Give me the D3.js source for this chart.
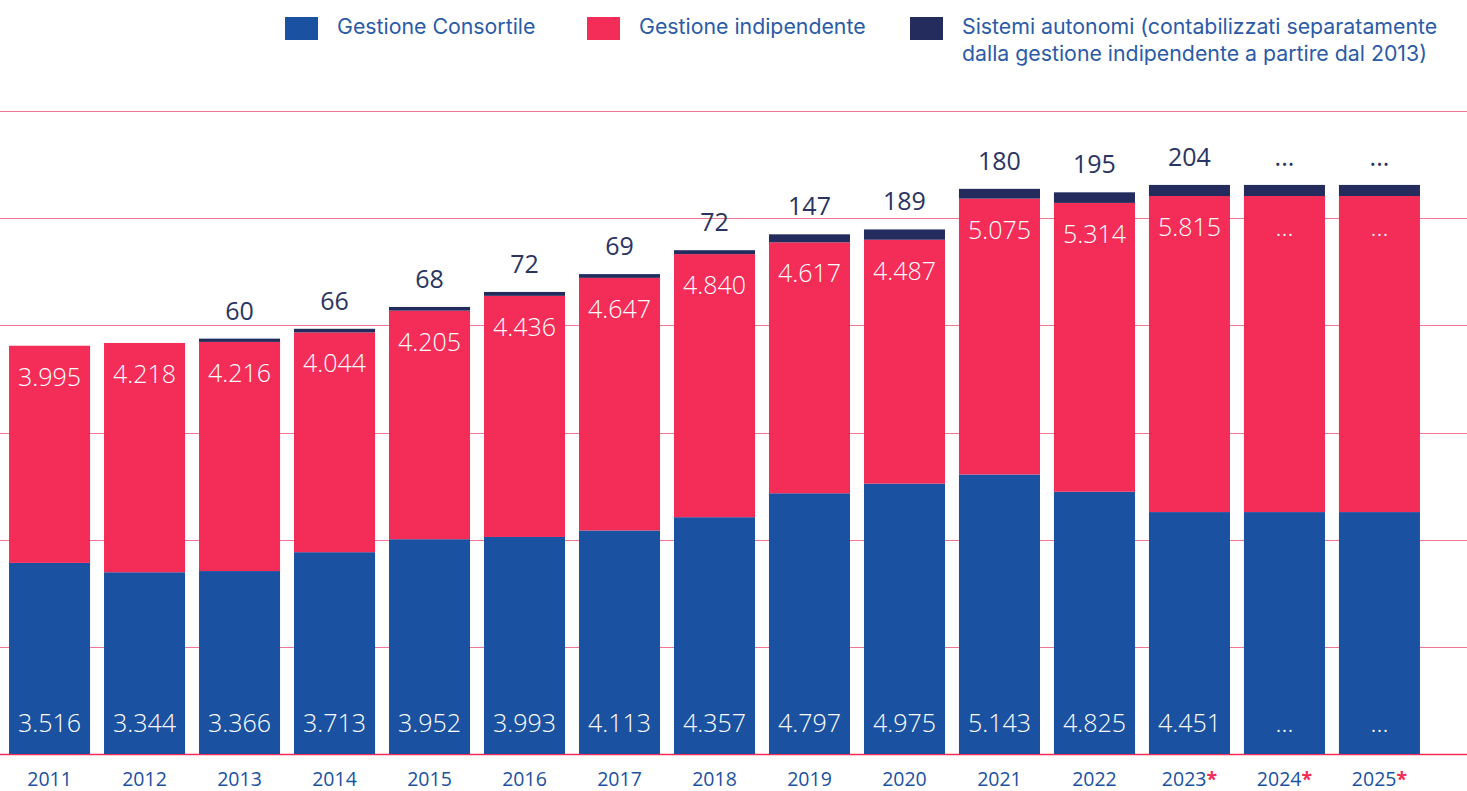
<!DOCTYPE html>
<html>
<head>
<meta charset="utf-8">
<script src="https://cdn.jsdelivr.net/npm/d3@7"></script>
<style>
  html, body { margin: 0; padding: 0; background: #fff; }
  svg { display: block; }
</style>
</head>
<body>
<div id="chart"></div>
<script>
// data
const years = ["2011", "2012", "2013", "2014", "2015", "2016", "2017", "2018", "2019", "2020", "2021", "2022", "2023", "2024", "2025"];
const estimated = [false, false, false, false, false, false, false, false, false, false, false, false, true, true, true];
const consortile = [3516, 3344, 3366, 3713, 3952, 3993, 4113, 4357, 4797, 4975, 5143, 4825, 4451, 4451, 4451];
const indipendente = [3995, 4218, 4216, 4044, 4205, 4436, 4647, 4840, 4617, 4487, 5075, 5314, 5815, 5815, 5815];
const autonomi = [0, 0, 60, 66, 68, 72, 69, 72, 147, 189, 180, 195, 204, 204, 204];
const consortileLabels = ["3.516", "3.344", "3.366", "3.713", "3.952", "3.993", "4.113", "4.357", "4.797", "4.975", "5.143", "4.825", "4.451", "...", "..."];
const indipendenteLabels = ["3.995", "4.218", "4.216", "4.044", "4.205", "4.436", "4.647", "4.840", "4.617", "4.487", "5.075", "5.314", "5.815", "...", "..."];
const autonomiLabels = ["", "", "60", "66", "68", "72", "69", "72", "147", "189", "180", "195", "204", "...", "..."];
const legendLabels = ["Gestione Consortile", "Gestione indipendente", ["Sistemi autonomi (contabilizzati separatamente", "dalla gestione indipendente a partire dal 2013)"]];

const colors = { consortile: "#1b51a1", indipendente: "#f32c58", autonomi: "#232c5d" };

async function drawChart() {
  const width = 1467;
  const height = 791;
  const numFont = "'Open Sans', 'Noto Sans', sans-serif";
  const textFont = "Inter, Roboto, sans-serif";

  const svg = d3.select("#chart")
    .append("svg")
    .attr("width", width)
    .attr("height", height);

  const rows = years.map((y, i) => ({
    year: y,
    est: estimated[i],
    c: consortile[i],
    ind: indipendente[i],
    a: autonomi[i],
    cl: consortileLabels[i],
    il: indipendenteLabels[i],
    al: autonomiLabels[i]
  }));

  // scales
  const xScale = d3.scaleBand()
    .domain(years)
    .range([2, 1427])
    .paddingInner(0.147)
    .paddingOuter(0.074);

  const yMax = 11830;
  const yScale = d3.scaleLinear()
    .domain([0, yMax])
    .range([754, 111]);

  // gridlines
  const gridValues = d3.range(0, 7).map(i => yMax * i / 6);
  svg.append("g")
    .selectAll("line")
    .data(gridValues)
    .join("line")
    .attr("x1", 0)
    .attr("x2", width)
    .attr("y1", d => Math.round(yScale(d)) + 0.5)
    .attr("y2", d => Math.round(yScale(d)) + 0.5)
    .attr("stroke", d => d === 0 ? "#f32c58" : "#f27592")
    .attr("stroke-width", d => d === 0 ? 1.6 : 1.2);

  // bars
  const bars = svg.append("g");
  bars.selectAll(".c")
    .data(rows)
    .join("rect")
    .attr("x", d => xScale(d.year))
    .attr("width", xScale.bandwidth())
    .attr("y", d => yScale(d.c))
    .attr("height", d => yScale(0) - yScale(d.c))
    .attr("fill", colors.consortile);

  bars.selectAll(".i")
    .data(rows)
    .join("rect")
    .attr("x", d => xScale(d.year))
    .attr("width", xScale.bandwidth())
    .attr("y", d => yScale(d.c + d.ind))
    .attr("height", d => yScale(d.c) - yScale(d.c + d.ind))
    .attr("fill", colors.indipendente);

  bars.selectAll(".a")
    .data(rows.filter(d => d.a > 0))
    .join("rect")
    .attr("x", d => xScale(d.year))
    .attr("width", xScale.bandwidth())
    .attr("y", d => yScale(d.c + d.ind + d.a))
    .attr("height", d => yScale(d.c + d.ind) - yScale(d.c + d.ind + d.a))
    .attr("fill", colors.autonomi);

  // value labels
  const cx = d => xScale(d.year) + xScale.bandwidth() / 2;

  svg.append("g")
    .selectAll("text")
    .data(rows)
    .join("text")
    .attr("x", cx)
    .attr("y", yScale(0) - 22)
    .attr("text-anchor", "middle")
    .attr("font-family", numFont)
    .attr("font-weight", 300)
    .attr("font-size", "25px")
    .attr("fill", "#fff")
    .text(d => d.cl);

  svg.append("g")
    .selectAll("text")
    .data(rows)
    .join("text")
    .attr("x", cx)
    .attr("y", d => yScale(d.c + d.ind) + 40)
    .attr("text-anchor", "middle")
    .attr("font-family", numFont)
    .attr("font-weight", 300)
    .attr("font-size", "25px")
    .attr("fill", "#fff")
    .text(d => d.il);

  svg.append("g")
    .selectAll("text")
    .data(rows.filter(d => d.al !== ""))
    .join("text")
    .attr("x", cx)
    .attr("y", d => yScale(d.c + d.ind + d.a) - 19)
    .attr("text-anchor", "middle")
    .attr("font-family", numFont)
    .attr("font-size", "25px")
    .attr("fill", "#2a3462")
    .text(d => d.al);

  // x axis labels
  const xLabels = svg.append("g")
    .selectAll("text")
    .data(rows)
    .join("text")
    .attr("x", cx)
    .attr("y", 786)
    .attr("text-anchor", "middle")
    .attr("font-family", numFont)
    .attr("font-size", "19.5px")
    .attr("fill", "#1b51a1");
  xLabels.append("tspan").text(d => d.year);
  xLabels.filter(d => d.est)
    .append("tspan")
    .attr("fill", "#f32c58")
    .attr("font-weight", "bold")
    .text("*");

  // legend
  const legendX = [285, 587, 910];
  const legendColors = [colors.consortile, colors.indipendente, colors.autonomi];
  legendLabels.forEach((label, i) => {
    const g = svg.append("g").attr("transform", `translate(${legendX[i]}, 17)`);
    g.append("rect")
      .attr("width", 33)
      .attr("height", 23)
      .attr("fill", legendColors[i]);
    const lines = Array.isArray(label) ? label : [label];
    g.append("text")
      .attr("x", 52)
      .attr("font-family", textFont)
      .attr("font-size", "21.3px")
      .attr("fill", "#2b5ba6")
      .selectAll("tspan")
      .data(lines)
      .join("tspan")
      .attr("x", 52)
      .attr("y", (d, j) => 17 + j * 27)
      .text(d => d);
  });
}

drawChart();
</script>
</body>
</html>
